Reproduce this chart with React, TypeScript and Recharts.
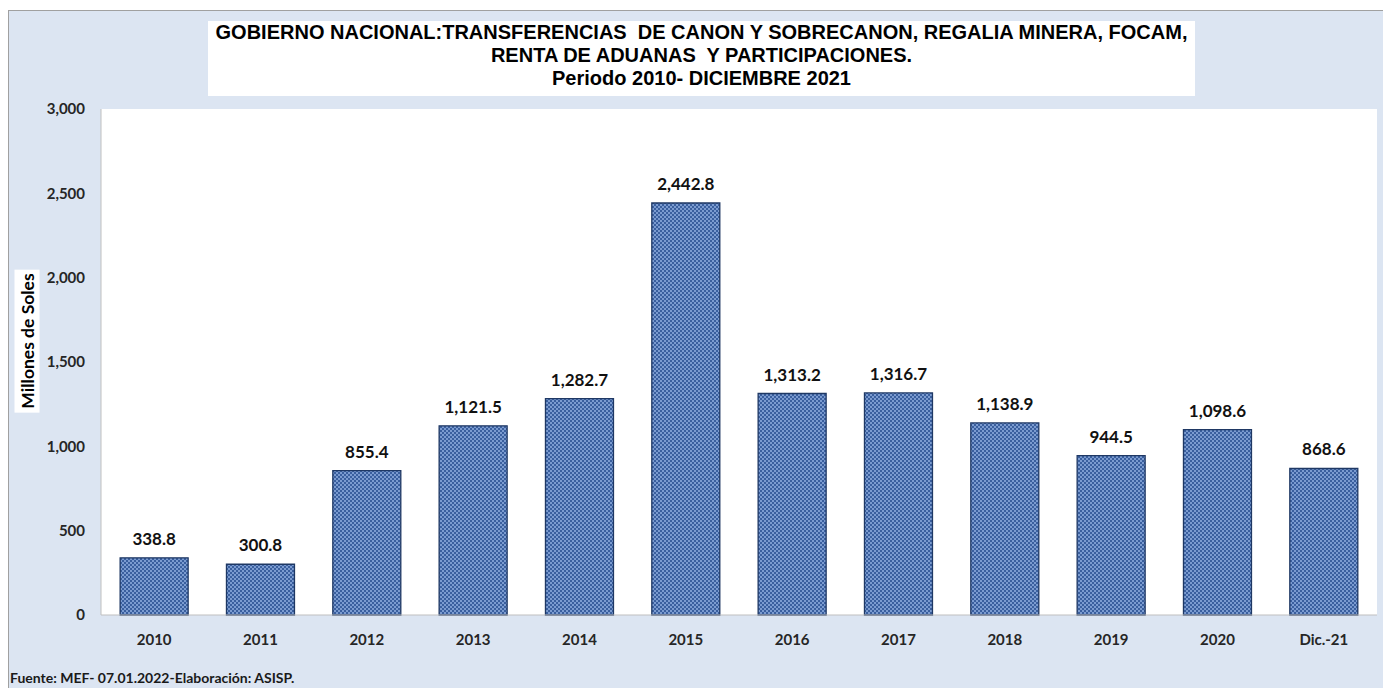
import React from 'react';
import { BarChart, Bar, XAxis, YAxis, CartesianGrid, LabelList } from 'recharts';

const categories = ['2010', '2011', '2012', '2013', '2014', '2015', '2016', '2017', '2018', '2019', '2020', 'Dic.-21'];
const values = [338.8, 300.8, 855.4, 1121.5, 1282.7, 2442.8, 1313.2, 1316.7, 1138.9, 944.5, 1098.6, 868.6];
const yTicks = [0, 500, 1000, 1500, 2000, 2500, 3000];
const titleLines = [
  'GOBIERNO NACIONAL:TRANSFERENCIAS  DE CANON Y SOBRECANON, REGALIA MINERA, FOCAM,',
  'RENTA DE ADUANAS  Y PARTICIPACIONES.',
  'Periodo 2010- DICIEMBRE 2021',
];
const yAxisTitle = 'Millones de Soles';
const footer = 'Fuente: MEF- 07.01.2022-Elaboración: ASISP.';

const data = categories.map((c, i) => ({ name: c, value: values[i] }));

const fmt = (v: number) =>
  v.toLocaleString('en-US', { minimumFractionDigits: 1, maximumFractionDigits: 1 });
const fmtTick = (v: number) => v.toLocaleString('en-US');

const FONT = 'Lato, "Open Sans", sans-serif';

export default function App() {
  return (
    <div style={{ position: 'absolute', left: 0, top: 0, width: 1383, height: 688, background: '#ffffff', overflow: 'hidden' }}>
      <svg width={0} height={0} style={{ position: 'absolute' }}>
        <defs>
          <pattern id="checker" width={4} height={4} patternUnits="userSpaceOnUse">
            <rect x={0} y={0} width={4} height={4} fill="#3a5f9e" />
            <rect x={0} y={0} width={2} height={2} fill="#7b9bd0" />
            <rect x={2} y={2} width={2} height={2} fill="#7b9bd0" />
          </pattern>
        </defs>
      </svg>
      <div
        style={{
          position: 'absolute',
          left: 8,
          top: 10,
          width: 1375,
          height: 678,
          background: '#dce5f2',
          borderTop: '1px solid #a0a0a0',
          borderLeft: '1px solid #a0a0a0',
        }}
      />
      <div style={{ position: 'absolute', left: 0, top: 0 }}>
        <BarChart
          width={1383}
          height={688}
          data={data}
          margin={{ top: 109, right: 6, bottom: 43, left: 0 }}
          barCategoryGap="18%"
        >
          <CartesianGrid horizontal={false} vertical={false} fill="#ffffff" />
          <XAxis
            dataKey="name"
            tickLine={false}
            axisLine={{ stroke: '#bfbfbf' }}
            tickMargin={13}
            tick={{ fill: '#262626', fontSize: 15, fontWeight: 700, fontFamily: FONT }}
            interval={0}
          />
          <YAxis
            width={101}
            domain={[0, 3000]}
            ticks={yTicks}
            tickFormatter={fmtTick}
            tickLine={false}
            tickSize={0}
            tickMargin={16}
            axisLine={{ stroke: '#bfbfbf' }}
            tick={{ fill: '#262626', fontSize: 15, fontWeight: 700, fontFamily: FONT }}
          />
          <Bar dataKey="value" fill="url(#checker)" stroke="#1f3864" strokeWidth={1.3} isAnimationActive={false}>
            <LabelList
              dataKey="value"
              position="top"
              offset={13}
              formatter={(v: any) => fmt(Number(v))}
              style={{ fill: '#111', fontSize: 17, fontWeight: 700, fontFamily: FONT }}
            />
          </Bar>
        </BarChart>
      </div>
      <div
        style={{
          position: 'absolute',
          left: 208,
          top: 21,
          width: 987,
          height: 75,
          background: '#ffffff',
          textAlign: 'center',
          fontFamily: 'Arial, "Liberation Sans", sans-serif',
          fontWeight: 700,
          fontSize: 20,
          lineHeight: '23px',
          color: '#000',
          whiteSpace: 'pre',
        }}
      >
        {titleLines.map((t, i) => (
          <div key={i}>{t}</div>
        ))}
      </div>
      <div
        style={{
          position: 'absolute',
          left: 27,
          top: 341,
          transform: 'translate(-50%, -50%) rotate(-90deg)',
          background: '#ffffff',
          padding: '2px 4px',
          fontFamily: FONT,
          fontWeight: 700,
          fontSize: 17.5,
          color: '#000',
          whiteSpace: 'nowrap',
        }}
      >
        {yAxisTitle}
      </div>
      <div
        style={{
          position: 'absolute',
          left: 10,
          top: 670,
          fontFamily: FONT,
          fontWeight: 700,
          fontSize: 14,
          lineHeight: '16px',
          color: '#1a1a1a',
          whiteSpace: 'nowrap',
        }}
      >
        {footer}
      </div>
    </div>
  );
}
